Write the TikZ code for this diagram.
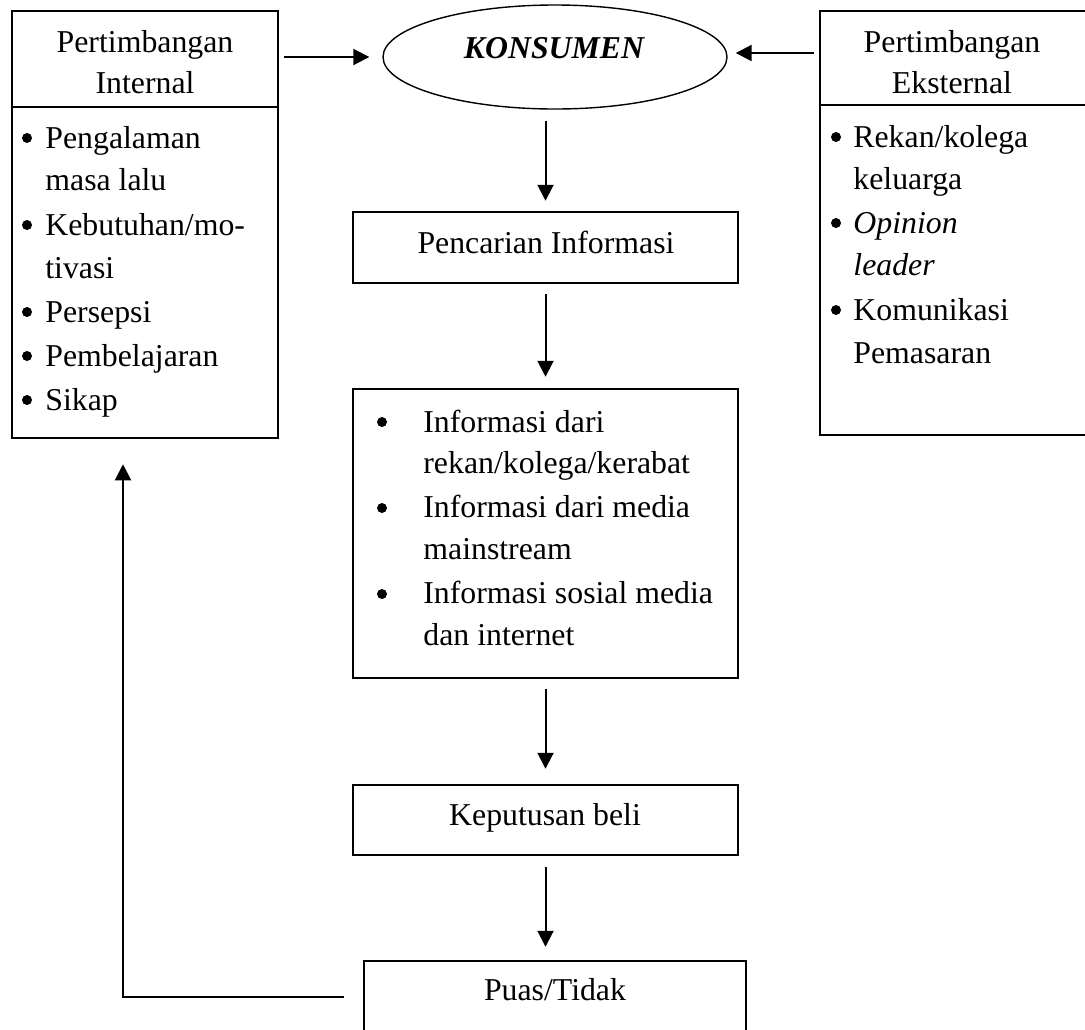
\documentclass[tikz,border=0pt]{standalone}
\usepackage{fontspec}
\setmainfont{Liberation Serif}
\usetikzlibrary{fit,shapes.geometric,arrows.meta}
\newcommand{\myfs}{\fontsize{15.9}{22}\selectfont}
\begin{document}
\begin{tikzpicture}[x=0.5pt,y=-0.5pt,
  box/.style={draw,line width=1.25pt,inner sep=0pt},
  lbl/.style={inner sep=0pt,anchor=base west,font=\myfs},
  ctr/.style={inner sep=0pt,anchor=base,font=\myfs},
  bul/.style={circle,fill,inner sep=0pt,minimum size=5pt},
  arr/.style={line width=1pt,-{Triangle[length=8pt,width=8pt]}}]
\useasboundingbox (0,0) rectangle (1085,1029);

% left box
\node[box,fit={(12,11) (278,107)}] (ihead) {};
\node[box,fit={(12,107) (278,438)}] (ibody) {};
\node[ctr] (ih1) at (145,52) {Pertimbangan};
\node[ctr] (ih2) at (145,93) {Internal};
\node[bul] (ib1) at (27,138) {};
\node[lbl] (it1) at (45,148) {Pengalaman};
\node[lbl] (it2) at (45,190) {masa lalu};
\node[bul] (ib2) at (27,225) {};
\node[lbl] (it3) at (45,235) {Kebutuhan/mo-};
\node[lbl] (it4) at (45,278) {tivasi};
\node[bul] (ib3) at (27,312) {};
\node[lbl] (it5) at (45,322) {Persepsi};
\node[bul] (ib4) at (27,356) {};
\node[lbl] (it6) at (45,366) {Pembelajaran};
\node[bul] (ib5) at (27,400) {};
\node[lbl] (it7) at (45,410) {Sikap};

% right box
\node[box,fit={(820,11) (1092,105)}] (ehead) {};
\node[box,fit={(820,105) (1092,435)}] (ebody) {};
\node[ctr] (eh1) at (952,52) {Pertimbangan};
\node[ctr] (eh2) at (952,93) {Eksternal};
\node[bul] (eb1) at (836,137) {};
\node[lbl] (et1) at (853,147) {Rekan/kolega};
\node[lbl] (et2) at (853,189) {keluarga};
\node[bul] (eb2) at (836,223) {};
\node[lbl] (et3) at (853,233) {\itshape Opinion};
\node[lbl] (et4) at (853,275) {\itshape leader};
\node[bul] (eb3) at (836,310) {};
\node[lbl] (et5) at (853,320) {Komunikasi};
\node[lbl] (et6) at (853,363) {Pemasaran};

% consumer ellipse
\node[ellipse,draw,line width=0.7pt,inner sep=0pt,minimum width=172pt,minimum height=52pt] (kons) at (555,57) {};
\node[ctr] (kt) at (554,58) {\bfseries\itshape KONSUMEN};

% search
\node[box,fit={(353,212) (738,283)}] (pen) {};
\node[ctr] (pt) at (546,253) {Pencarian Informasi};

% info box
\node[box,fit={(353,389) (738,678)}] (info) {};
\node[bul] (nb1) at (382,422) {};
\node[lbl] (nt1) at (423,432) {Informasi dari};
\node[lbl] (nt2) at (423,473) {rekan/kolega/kerabat};
\node[bul] (nb2) at (382,508) {};
\node[lbl] (nt3) at (423,517) {Informasi dari media};
\node[lbl] (nt4) at (423,559) {mainstream};
\node[bul] (nb3) at (382,594) {};
\node[lbl] (nt5) at (423,603) {Informasi sosial media};
\node[lbl] (nt6) at (423,645) {dan internet};

% decision
\node[box,fit={(353,785) (738,855)}] (kep) {};
\node[ctr] (kpt) at (545,825) {Keputusan beli};

% satisfied
\node[box,fit={(364,961) (746,1033)}] (puas) {};
\node[ctr] (pst) at (555,1000) {Puas/Tidak};

% arrows
\draw[arr,shorten <=2.5pt,shorten >=6.5pt] (ihead.east |- kons.west) -- (kons.west);
\draw[arr,shorten <=2.5pt,shorten >=4pt] (ehead.west |- 0,53) -- (kons.east |- 0,53);
\draw[arr,shorten <=5.5pt,shorten >=5pt] (kons.south -| pen.north) -- (pen.north);
\draw[arr,shorten <=5pt,shorten >=5.5pt] (pen.south) -- (info.north);
\draw[arr,shorten <=5pt,shorten >=7.5pt] (info.south) -- (kep.north);
\draw[arr,shorten <=5.5pt,shorten >=6.5pt] (kep.south) -- (kep.south |- puas.north);
\coordinate (fb) at (123,997);
\draw[arr,shorten <=9.5pt,shorten >=12.5pt] (puas.west) -- (fb) -- (fb |- ibody.south);
\end{tikzpicture}
\end{document}
